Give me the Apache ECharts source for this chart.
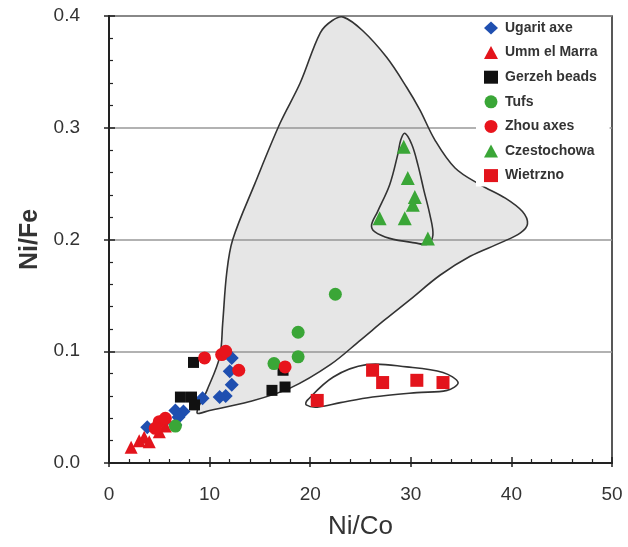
<!DOCTYPE html>
<html><head><meta charset="utf-8">
<script src="https://cdn.jsdelivr.net/npm/echarts@6/dist/echarts.min.js"></script>
<style>html,body{margin:0;padding:0;background:#fff}#c{width:628px;height:547px}</style>
</head><body><div id="c"></div>
<script>
// Axis tick labels
const xTicks = [0, 10, 20, 30, 40, 50];
const yTicks = [0.0, 0.1, 0.2, 0.3, 0.4];

// Series data [Ni/Co, Ni/Fe]
const ugaritAxe = [[12.2,0.094],[12.0,0.082],[12.2,0.070],[11.6,0.060],[11.0,0.059],[9.3,0.058],[7.4,0.046],[6.6,0.047],[6.9,0.041],[6.6,0.034],[3.8,0.032],[5.5,0.037]];
const ummElMarra = [[2.2,0.014],[3.0,0.020],[3.5,0.023],[4.0,0.019],[5.0,0.028],[5.6,0.033]];
const gerzehBeads = [[8.4,0.090],[7.1,0.059],[8.2,0.059],[8.5,0.052],[16.2,0.065],[17.5,0.068],[17.3,0.083]];
const tufs = [[22.5,0.151],[18.8,0.117],[18.8,0.095],[16.4,0.089],[6.6,0.033]];
const zhouAxes = [[9.5,0.094],[11.2,0.097],[11.6,0.100],[12.9,0.083],[17.5,0.086],[5.0,0.037],[5.6,0.040],[4.6,0.031]];
const czestochowa = [[29.3,0.283],[29.7,0.255],[30.4,0.238],[30.2,0.231],[26.9,0.219],[29.4,0.219],[31.7,0.201]];
const wietrzno = [[20.7,0.056],[26.2,0.083],[27.2,0.072],[30.6,0.074],[33.2,0.072]];

// Field outlines
const bigField = [[8.75,0.045],[9.74,0.065],[11.0,0.095],[11.3,0.125],[11.7,0.170],[12.3,0.200],[14.5,0.250],[17.0,0.304],[19.0,0.340],[21.0,0.385],[22.2,0.396],[23.3,0.399],[25.2,0.387],[27.6,0.363],[29.6,0.336],[30.9,0.316],[32.4,0.289],[34.4,0.264],[36.9,0.249],[39.4,0.237],[41.1,0.225],[41.6,0.214],[40.9,0.206],[38.9,0.197],[35.9,0.185],[32.9,0.168],[29.9,0.146],[27.4,0.128],[25.0,0.110],[22.0,0.088],[18.0,0.067],[14.0,0.055],[10.0,0.047]];
const czestochowaField = [[29.4,0.295],[30.1,0.285],[30.7,0.267],[31.3,0.244],[31.9,0.222],[32.2,0.204],[31.7,0.196],[30.4,0.197],[27.9,0.201],[26.4,0.207],[26.1,0.213],[26.7,0.225],[27.9,0.249],[28.7,0.276],[29.0,0.289]];
const wietrznoField = [[19.7,0.056],[22.3,0.077],[25.6,0.088],[29.6,0.086],[33.2,0.081],[34.7,0.072],[33.6,0.065],[30.6,0.063],[26.2,0.059],[23.0,0.054],[20.7,0.050],[19.6,0.052]];

const names = ['Ugarit axe','Umm el Marra','Gerzeh beads','Tufs','Zhou axes','Czestochowa','Wietrzno'];

function fieldSeries(outline, fill, z) {
  return {
    type: 'custom', z: z, silent: true, data: outline, encode: {x:0, y:1},
    renderItem: function(params, api) {
      if (params.dataIndex !== 0) return null;
      const pts = outline.map(p => api.coord(p));
      return {type:'polygon', shape:{points:pts, smooth:0.35},
        style:{fill:fill, stroke:'#333', lineWidth:1.6}};
    }
  };
}
function scat(name, data, symbol, size, color) {
  return {name:name, type:'scatter', z:5, data:data, symbol:symbol, symbolSize:size,
    itemStyle:{color:color, opacity:1}};
}

const chart = echarts.init(document.getElementById('c'));
const axisLbl = {fontFamily:'Liberation Sans, Arial', fontSize:19, color:'#333'};
chart.setOption({
  animation:false,
  grid:{left:109, right:16, top:16, bottom:84, show:true, borderColor:'#222', borderWidth:1.5, backgroundColor:'transparent'},
  legend:{orient:'vertical', left:476, top:19, backgroundColor:'#fff', padding:[2,12,4,8],
    itemWidth:14, itemHeight:13, itemGap:10.6, data:names,
    textStyle:{fontFamily:'Liberation Sans, Arial', fontSize:14, fontWeight:'bold', color:'#333', padding:[0,0,0,2]}},
  xAxis:[{type:'value', min:0, max:50, interval:10, name:'Ni/Co', nameLocation:'middle', nameGap:51,
    nameTextStyle:{fontFamily:'Liberation Sans, Arial', fontSize:26, color:'#333'},
    axisLine:{show:true, lineStyle:{color:'#222', width:2}},
    axisTick:{show:true, inside:true, length:6, lineStyle:{color:'#222', width:1.5}},
    minorTick:{show:true, splitNumber:5, length:4, lineStyle:{color:'#222', width:1.2}},
    axisLabel:Object.assign({margin:22, formatter:v=>String(v)}, axisLbl),
    splitLine:{show:false}},
    {type:'value', min:0, max:50, interval:10, position:'bottom', axisLine:{show:false},
    axisTick:{show:true, inside:false, length:4, lineStyle:{color:'#222', width:1.5}}, axisLabel:{show:false}, splitLine:{show:false}}],
  yAxis:[{type:'value', min:0, max:0.4, interval:0.1, name:'Ni/Fe', nameLocation:'middle', nameGap:66,
    nameTextStyle:{fontFamily:'Liberation Sans, Arial', fontSize:25, fontWeight:'bold', color:'#333'},
    axisLine:{show:true, lineStyle:{color:'#222', width:2}},
    axisTick:{show:true, inside:true, length:6, lineStyle:{color:'#222', width:1.5}},
    minorTick:{show:true, splitNumber:5, length:4, lineStyle:{color:'#222', width:1.2}},
    axisLabel:Object.assign({margin:29, formatter:v=>v.toFixed(1)}, axisLbl),
    splitLine:{show:true, lineStyle:{color:'#999', width:1.5}}},
    {type:'value', min:0, max:0.4, interval:0.1, position:'left', axisLine:{show:false},
    axisTick:{show:true, inside:false, length:5, lineStyle:{color:'#222', width:1.5}}, axisLabel:{show:false}, splitLine:{show:false}}],
  series:[
    fieldSeries(bigField, 'rgba(140,140,140,0.22)', 1),
    fieldSeries(czestochowaField, 'rgba(0,0,0,0)', 1),
    fieldSeries(wietrznoField, 'rgba(0,0,0,0)', 1),
    scat('Ugarit axe', ugaritAxe, 'diamond', 14, '#1f4fb0'),
    scat('Umm el Marra', ummElMarra, 'triangle', 13, '#e3141c'),
    scat('Gerzeh beads', gerzehBeads, 'rect', 11, '#111'),
    scat('Tufs', tufs, 'circle', 13, '#3aa637'),
    scat('Zhou axes', zhouAxes, 'circle', 13, '#e8141c'),
    scat('Czestochowa', czestochowa, 'triangle', 14, '#3aa637'),
    scat('Wietrzno', wietrzno, 'rect', 13, '#e3141c')
  ]
});
</script></body></html>
